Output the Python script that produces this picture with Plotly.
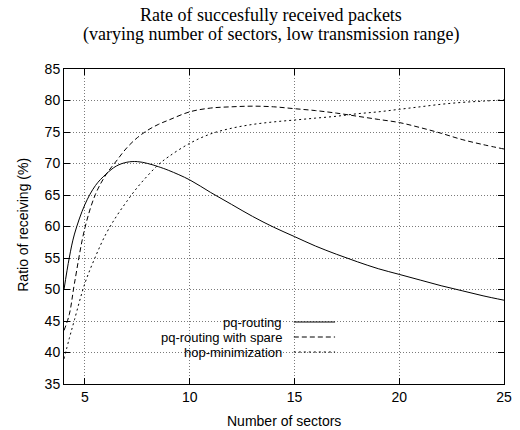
import plotly.graph_objects as go

# ---- data ----
sectors = [4, 4.25, 4.5, 5, 5.5, 6, 6.5, 7, 7.5, 8, 8.5, 9, 10, 11, 12, 13, 14,
           15, 16, 17, 18, 19, 20, 21, 22, 23, 24, 25]
pq_routing = [50.0, 55.0, 58.8, 63.5, 66.5, 68.3, 69.6, 70.2, 70.3, 70.0, 69.5,
              68.9, 67.4, 65.4, 63.5, 61.6, 59.9, 58.4, 56.9, 55.6, 54.4, 53.3,
              52.4, 51.5, 50.6, 49.8, 49.0, 48.3]
pq_routing_spare = [43.5, 46.0, 51.0, 59.8, 65.1, 68.2, 70.4, 72.5, 74.1, 75.3,
                    76.2, 76.9, 78.2, 78.8, 79.0, 79.1, 79.0, 78.7, 78.4, 78.0,
                    77.5, 77.0, 76.5, 75.7, 74.8, 73.8, 73.0, 72.3]
hop_min = [39.0, 42.2, 45.2, 51.0, 55.2, 58.8, 61.6, 64.0, 66.2, 68.1, 69.8,
           71.1, 73.2, 74.7, 75.6, 76.2, 76.6, 76.9, 77.2, 77.5, 77.9, 78.2,
           78.6, 79.0, 79.4, 79.7, 79.9, 80.1]

series_names = ["pq-routing", "pq-routing with spare", "hop-minimization"]
series_values = [pq_routing, pq_routing_spare, hop_min]
series_dash = ["solid", "5px,3px", "2px,3px"]

x_ticks = [5, 10, 15, 20, 25]
y_ticks = [35, 40, 45, 50, 55, 60, 65, 70, 75, 80, 85]

title_lines = ["Rate of succesfully received packets",
               "(varying number of sectors, low transmission range)"]
x_title = "Number of sectors"
y_title = "Ratio of receiving (%)"

# ---- layout geometry (pixels) ----
W, H = 520, 430
L, R, T, B = 64, 8, 69, 46
pw, ph = W - L - R, H - T - B


def px_x(p):
    return (p - L) / pw


def px_y(p):
    return (H - B - p) / ph


SANS = "Liberation Sans, Arial, sans-serif"
SERIF = "Liberation Serif, Times New Roman, serif"

fig = go.Figure()
for name, vals, dash in zip(series_names, series_values, series_dash):
    fig.add_trace(go.Scatter(
        x=sectors, y=vals, mode="lines", name=name,
        line=dict(color="black", width=1, dash=dash, shape="spline", smoothing=1),
        showlegend=False, hoverinfo="skip"))

axis_common = dict(
    showline=True, linecolor="black", linewidth=1, mirror="ticks",
    ticks="inside", ticklen=6, tickcolor="black", tickwidth=1,
    showgrid=True, gridcolor="#7a7a7a", gridwidth=1, griddash="1px,2px",
    zeroline=False, tickfont=dict(family=SANS, size=14, color="black"),
)

fig.update_xaxes(range=[4, 25], tickvals=x_ticks, ticktext=[str(v) for v in x_ticks],
                 **axis_common)
fig.update_yaxes(range=[35, 85], tickvals=y_ticks, ticktext=[str(v) for v in y_ticks],
                 **axis_common)

shapes = []
# white legend background hiding the grid
shapes.append(dict(type="rect", xref="paper", yref="paper",
                   x0=px_x(103), x1=px_x(348), y0=px_y(362), y1=px_y(315),
                   fillcolor="white", line=dict(width=0), layer="between"))
annotations = []
row_y = [322.0, 337.0, 352.0]
for name, dash, ry in zip(series_names, series_dash, row_y):
    annotations.append(dict(text=name, xref="paper", yref="paper",
                            x=px_x(288), y=px_y(ry), xanchor="right", yanchor="middle",
                            showarrow=False, font=dict(family=SANS, size=13, color="black")))
    shapes.append(dict(type="line", xref="paper", yref="paper",
                       x0=px_x(298), x1=px_x(340), y0=px_y(ry), y1=px_y(ry),
                       line=dict(color="black", width=1, dash=dash), layer="above"))

# titles
annotations.append(dict(text=title_lines[0], xref="paper", yref="paper",
                        x=px_x(275), y=px_y(15), xanchor="center", yanchor="middle",
                        showarrow=False, font=dict(family=SERIF, size=18, color="black")))
annotations.append(dict(text=title_lines[1], xref="paper", yref="paper",
                        x=px_x(275), y=px_y(35), xanchor="center", yanchor="middle",
                        showarrow=False, font=dict(family=SERIF, size=18, color="black")))
annotations.append(dict(text=x_title, xref="paper", yref="paper",
                        x=px_x(288), y=px_y(421), xanchor="center", yanchor="middle",
                        showarrow=False, font=dict(family=SANS, size=14, color="black")))
annotations.append(dict(text=y_title, xref="paper", yref="paper",
                        x=px_x(22), y=px_y(225), xanchor="center", yanchor="middle",
                        textangle=-90, showarrow=False,
                        font=dict(family=SANS, size=14, color="black")))

fig.update_layout(
    width=W, height=H,
    margin=dict(l=L, r=R, t=T, b=B, pad=0),
    paper_bgcolor="white", plot_bgcolor="white",
    shapes=shapes, annotations=annotations,
    showlegend=False, hovermode=False,
)

fig.write_html("out.html", config={"displayModeBar": False})
